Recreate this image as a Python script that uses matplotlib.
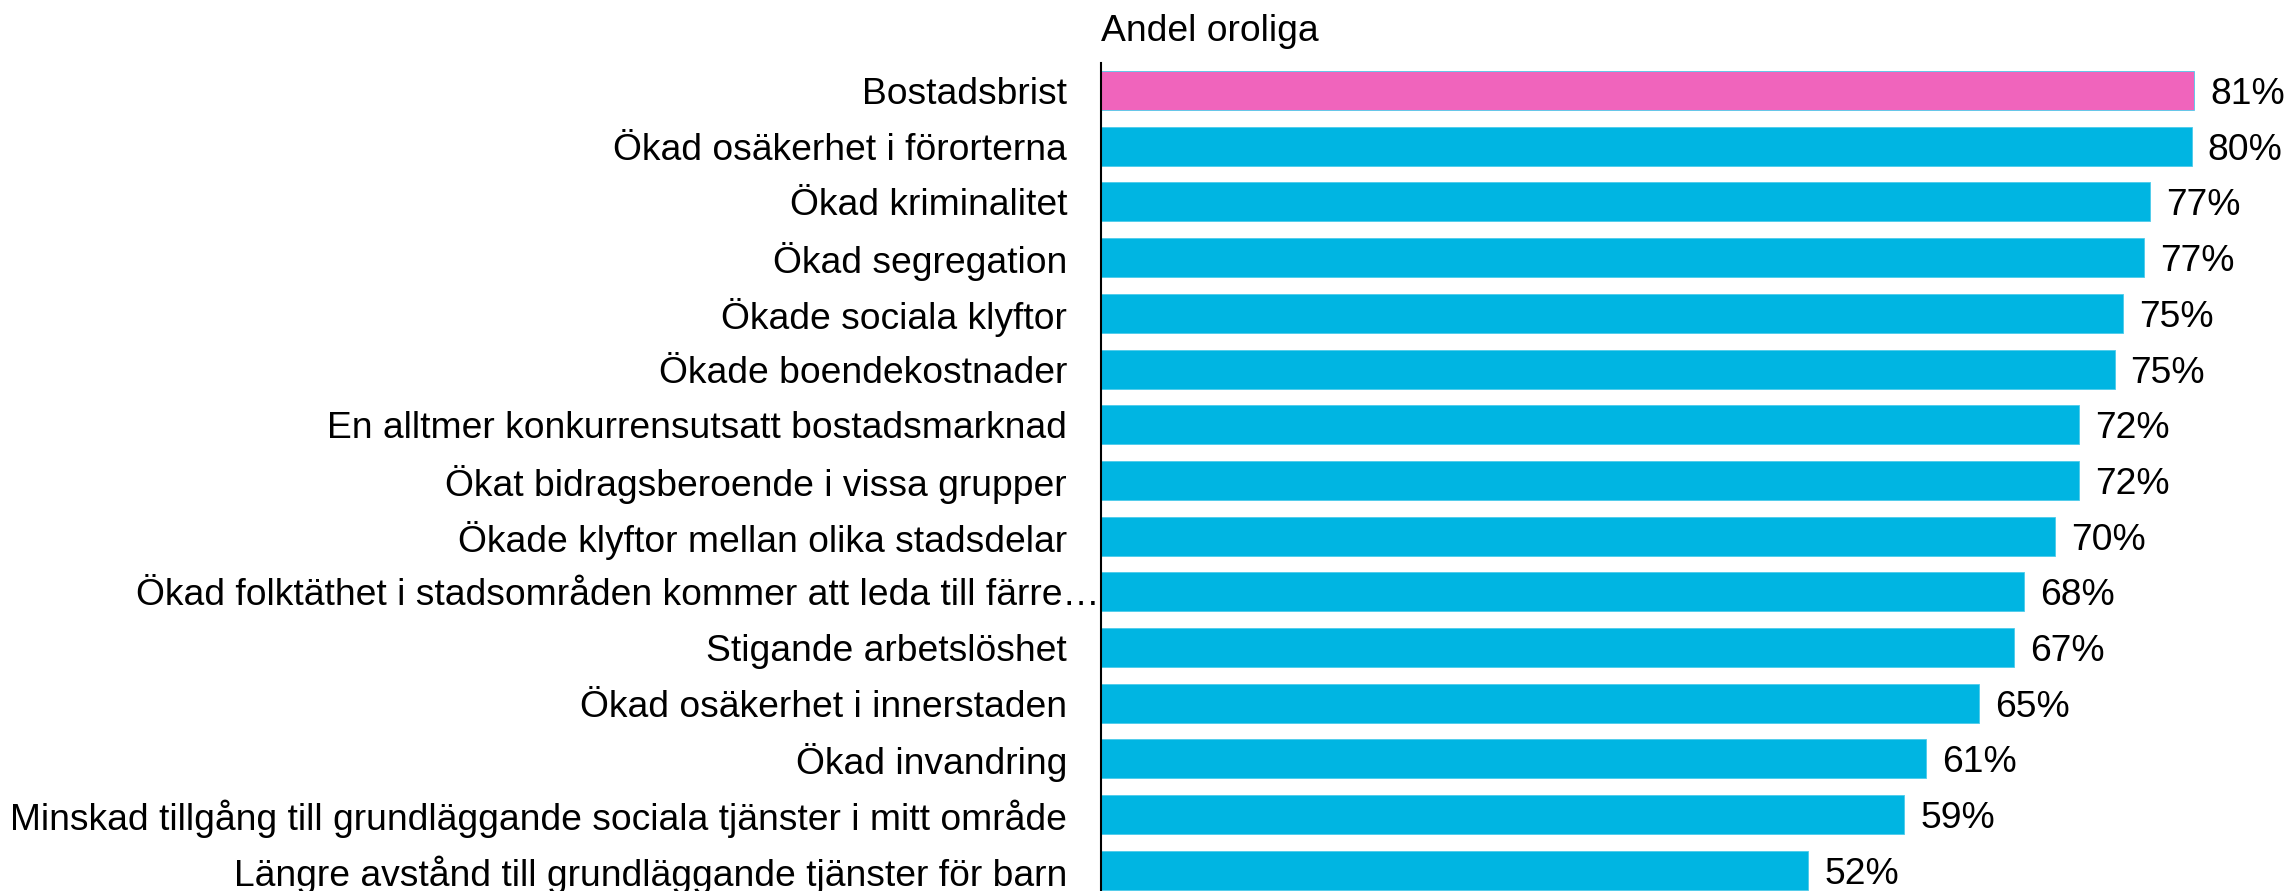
import numpy as np
import matplotlib
matplotlib.use("Agg")
import matplotlib.pyplot as plt
from matplotlib.transforms import offset_copy

# Data (share worried, %)
categories = [
    "Bostadsbrist",
    "Ökad osäkerhet i förorterna",
    "Ökad kriminalitet",
    "Ökad segregation",
    "Ökade sociala klyftor",
    "Ökade boendekostnader",
    "En alltmer konkurrensutsatt bostadsmarknad",
    "Ökat bidragsberoende i vissa grupper",
    "Ökade klyftor mellan olika stadsdelar",
    "Ökad folktäthet i stadsområden kommer att leda till färre…",
    "Stigande arbetslöshet",
    "Ökad osäkerhet i innerstaden",
    "Ökad invandring",
    "Minskad tillgång till grundläggande sociala tjänster i mitt område",
    "Längre avstånd till grundläggande tjänster för barn",
]
values = [80.7, 80.5, 77.4, 77.0, 75.4, 74.8, 72.2, 72.2, 70.4, 68.1,
          67.4, 64.8, 60.9, 59.3, 52.2]
highlight = "Bostadsbrist"
title = "Andel oroliga"

PINK = "#F064BC"
BLUE = "#00B5E2"

plt.rcParams['font.family'] = ['Liberation Sans', 'DejaVu Sans']
FS = 26.8

W, H, DPI = 2292, 891, 100
fig = plt.figure(figsize=(W / DPI, H / DPI), dpi=DPI)

ax_left = 1101 / W
ax_top = 62.7 / H
ax = fig.add_axes([ax_left, 0, 1 - ax_left, 1 - ax_top])

y = np.arange(len(categories))
colors = [PINK if c == highlight else BLUE for c in categories]
ax.barh(y, values, height=0.70, color=colors, edgecolor="#4CCBEB",
        linewidth=0.6)

ax.set_xlim(0, 87.9)
ax.set_ylim(14.37, -0.5)

for s in ["top", "right", "bottom"]:
    ax.spines[s].set_visible(False)
ax.spines["left"].set_linewidth(1.5)
ax.spines["left"].set_color("black")
ax.set_xticks([])
ax.set_yticks([])

# value labels right of each bar
val_trans = offset_copy(ax.transData, fig=fig, x=16, y=0, units="dots")
for yi, v in zip(y, values):
    ax.text(v, yi, f"{v:.0f}%", transform=val_trans, ha="left",
            va="center_baseline", fontsize=FS, color="black")

# category labels, right-aligned left of the axis line
trans = ax.get_yaxis_transform()
lab_trans = offset_copy(trans, fig=fig, x=-34, y=0, units="dots")
for yi, cat in zip(y, categories):
    if cat.endswith("…"):
        # truncated label runs up to the axis line like in the reference
        t = offset_copy(trans, fig=fig, x=-1, y=0, units="dots")
    else:
        t = lab_trans
    ax.text(0, yi, cat, transform=t, ha="right", va="center_baseline",
            fontsize=FS, color="black")

fig.text(ax_left, 1 - 41 / H, title, ha="left", va="baseline",
         fontsize=FS, color="black")

fig.savefig("out.png", dpi=DPI, facecolor="white")
